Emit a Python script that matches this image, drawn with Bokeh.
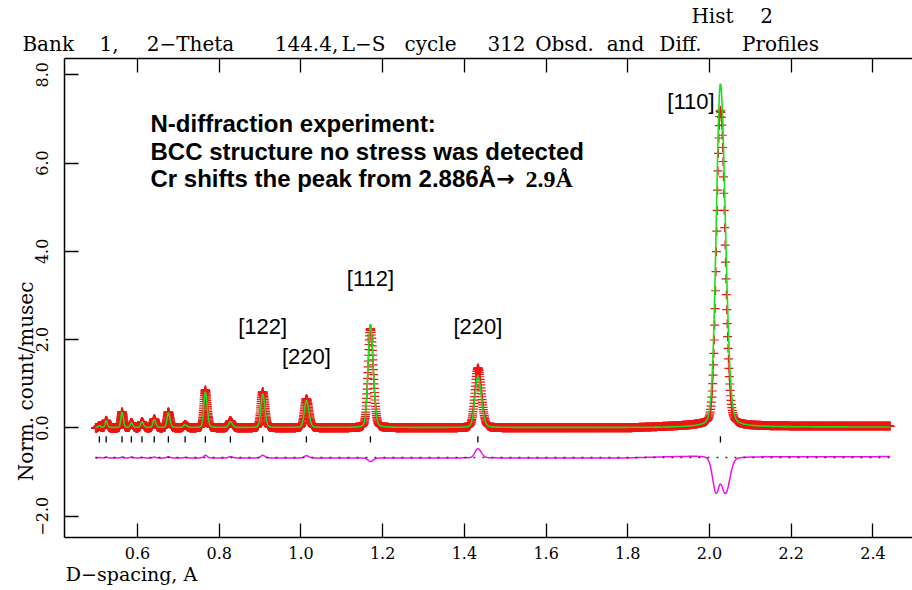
import numpy as np
from bokeh.plotting import figure
from bokeh.models import (Range1d, LinearAxis, FixedTicker, PrintfTickFormatter,
                          Label, ColumnDataSource)
from bokeh.core.properties import value
from bokeh.embed import file_html
from bokeh.resources import INLINE

# ---- reflections of the BCC phase (d-spacing, Å) ----
peak_d = [0.5067, 0.5233, 0.5621, 0.5850, 0.6110, 0.6409, 0.6755, 0.7165,
          0.7660, 0.8273, 0.9063, 1.0133, 1.1700, 1.4330, 2.0266]
# peak heights above background, observed and calculated (counts/musec)
obs_height = [0.05, 0.17, 0.36, 0.12, 0.14, 0.20, 0.36, 0.07,
              0.86, 0.16, 0.82, 0.66, 2.25, 1.36, 7.15]
calc_height = [0.04, 0.15, 0.34, 0.10, 0.13, 0.18, 0.33, 0.06,
               0.80, 0.13, 0.76, 0.61, 2.33, 1.15, 7.78]
# observed peak width relative to the calculated one
obs_width_ratio = [1.0, 1.0, 1.0, 1.0, 1.0, 1.0, 1.0, 1.0,
                   1.0, 1.0, 1.0, 1.0, 1.0, 1.0, 0.9]

# background levels along d
bg_d = [0.497, 1.80, 1.86, 1.98, 2.06, 2.443]
obs_bg = [0.00, 0.00, 0.02, 0.06, 0.04, 0.04]
calc_bg = [0.01, 0.01, 0.01, 0.02, 0.02, 0.02]

# measured d range and the instrument resolution
d_first, d_last = 0.497, 2.443
resolution = 0.0117      # FWHM / d
step = 0.0005            # point spacing, delta-d / d
diff_offset = -0.67      # baseline of the difference curve

# peak labels
label_text = ["[110]", "[112]", "[122]", "[220]", "[220]"]

x_ticks = [0.6, 0.8, 1.0, 1.2, 1.4, 1.6, 1.8, 2.0, 2.2, 2.4]
y_ticks = [-2.0, 0.0, 2.0, 4.0, 6.0, 8.0]

# heading words
NB = "\u00a0"
title_words = ["Bank" + NB * 4 + "1,", "2\u2212Theta", "144.4,", "L\u2212S", "cycle",
               "312", "Obsd.", "and", "Diff.", "Profiles"]
hist_words = ["Hist", "2"]


def profile(d, centres, heights, ratios, eta=0.15, skew=1.2):
    y = np.zeros_like(d)
    for c, h, r in zip(centres, heights, ratios):
        sl = resolution * c * r / 2.3548
        s = np.where(d < c, sl, sl * skew)
        u = (d - c) / s
        y += h * ((1 - eta) * np.exp(-0.5 * u ** 2) + eta / (1 + (u / 1.1774) ** 2))
    return y


n_pts = int(np.log(d_last / d_first) / np.log(1 + step)) + 1
d = d_first * (1 + step) ** np.arange(n_pts)
obs = profile(d, peak_d, obs_height, obs_width_ratio) + np.interp(d, bg_d, obs_bg)
calc = profile(d, peak_d, calc_height, [1.0] * len(peak_d)) + np.interp(d, bg_d, calc_bg)
diff = obs - calc + diff_offset

src = ColumnDataSource(dict(d=d, obs=obs, calc=calc, diff=diff))

W, H = 912, 590
LEFT, TOP, BOTTOM = 64, 58, 53
X0, X1 = 0.4213, 2.4967
Y0, Y1 = -2.4826, 8.369
p = figure(width=W, height=H, output_backend="svg", toolbar_location=None,
           x_range=Range1d(X0, X1), y_range=Range1d(Y0, Y1),
           min_border_left=LEFT, min_border_right=0, min_border_top=TOP,
           min_border_bottom=BOTTOM, x_axis_location=None, y_axis_location=None,
           background_fill_color="white", border_fill_color="white")
p.outline_line_color = None
for g in p.grid:
    g.visible = False

FRAME_W = W - LEFT
FRAME_H = H - TOP - BOTTOM


def px_to_x(px):
    return round(X0 + (px - LEFT) * (X1 - X0) / FRAME_W, 5)


def px_to_y(py):
    return round(Y0 + (H - BOTTOM - py) * (Y1 - Y0) / FRAME_H, 5)


def style_axis(ax, ticks, labels=True, size="16px"):
    ax.ticker = FixedTicker(ticks=ticks)
    ax.formatter = PrintfTickFormatter(format="%.1f")
    ax.major_tick_in = 14
    ax.major_tick_out = 0
    ax.minor_tick_line_color = None
    ax.axis_line_width = 1.5
    ax.axis_line_color = "black"
    ax.major_tick_line_width = 1.3
    ax.major_tick_line_color = "black"
    ax.major_label_text_font = "DejaVu Serif"
    ax.major_label_text_font_size = size
    ax.major_label_text_color = "black" if labels else None


def text_axis(ticks, words, size, standoff, vertical=False):
    # an axis used only to carry free text outside the frame
    ax = LinearAxis(ticker=FixedTicker(ticks=ticks),
                    major_label_overrides=dict(zip(ticks, words)))
    ax.axis_line_color = None
    ax.major_tick_line_color = None
    ax.minor_tick_line_color = None
    ax.major_tick_in = 0
    ax.major_tick_out = 0
    ax.major_label_standoff = standoff
    ax.major_label_text_font = "DejaVu Serif"
    ax.major_label_text_font_size = size
    ax.major_label_text_color = "black"
    if vertical:
        ax.major_label_orientation = "vertical"
    return ax


xb = LinearAxis()
style_axis(xb, x_ticks)
xb.major_label_standoff = 9
p.add_layout(xb, "below")

xt = LinearAxis()
style_axis(xt, x_ticks, labels=False, size="1px")
xt.major_label_standoff = 0
p.add_layout(xt, "above")

yl = LinearAxis()
style_axis(yl, y_ticks)
yl.major_label_orientation = "vertical"
yl.major_label_standoff = 16
yl.major_label_overrides = {-2.0: "\u22122.0"}
p.add_layout(yl, "left")

# heading rows above the frame (word centres in page pixels)
title_cx = [70, 190, 306, 363, 430, 506, 564, 625, 680, 780]
p.add_layout(text_axis([px_to_x(c) for c in title_cx], title_words, "20px", 3), "above")
hist_cx = [712, 766]
p.add_layout(text_axis([px_to_x(c) for c in hist_cx], hist_words, "20px", 1), "above")

# axis titles
p.add_layout(text_axis([px_to_x(131)], ["D\u2212spacing, A"], "19px", 1), "below")
p.add_layout(text_axis([px_to_y(381)], ["Norm. count/musec"], "20px", -5,
                       vertical=True), "left")

# observed points, calculated profile
p.scatter("d", "obs", source=src, marker="cross", size=9,
          line_color="#f01414", line_width=1.2)
p.line("d", "calc", source=src, line_color="#1be01b", line_width=1.6)

# reflection markers
p.segment(x0=peak_d, x1=peak_d, y0=[-0.19] * len(peak_d), y1=[-0.33] * len(peak_d),
          line_color="black", line_width=1.3)

# difference curve and its zero line
p.line("d", "diff", source=src, line_color="#ee11ee", line_width=1.5)
p.line([d_first, d_last], [diff_offset, diff_offset], line_color="#333333",
       line_width=1.3, line_dash="2 7")

# peak labels
lab_src = ColumnDataSource(dict(
    text=label_text,
    x=[1.9546, 1.1700, 0.9063, 1.0133, 1.4330],
    y=[7.39, 3.38, 2.30, 1.62, 2.30]))
p.text("x", "y", text="text", source=lab_src, text_font=value("Liberation Sans"),
       text_font_size=value("22px"), text_align="center",
       text_baseline="alphabetic", text_color="black")

FRAME_BOTTOM = H - BOTTOM


def put(text, x, y_top, font="Liberation Sans", size="24px", style="bold"):
    # x, y_top in page pixels; screen units are measured from the frame corner
    p.add_layout(Label(x=x - LEFT, y=FRAME_BOTTOM - y_top,
                       x_units="screen", y_units="screen",
                       text=text, text_font=font, text_font_size=size,
                       text_font_style=style, text_align="left",
                       text_baseline="alphabetic", text_color="black"))


# notes
put("N-diffraction experiment:", 150, 123)
put("BCC structure no stress was detected", 150, 151)
put("Cr shifts the peak from 2.886\u00c5", 150, 178)
put("\u2192", 496, 178, font="DejaVu Sans", size="22px")
put("2.9\u00c5", 525, 178, font="Liberation Serif")

open("out.html", "w").write(file_html(p, INLINE))
